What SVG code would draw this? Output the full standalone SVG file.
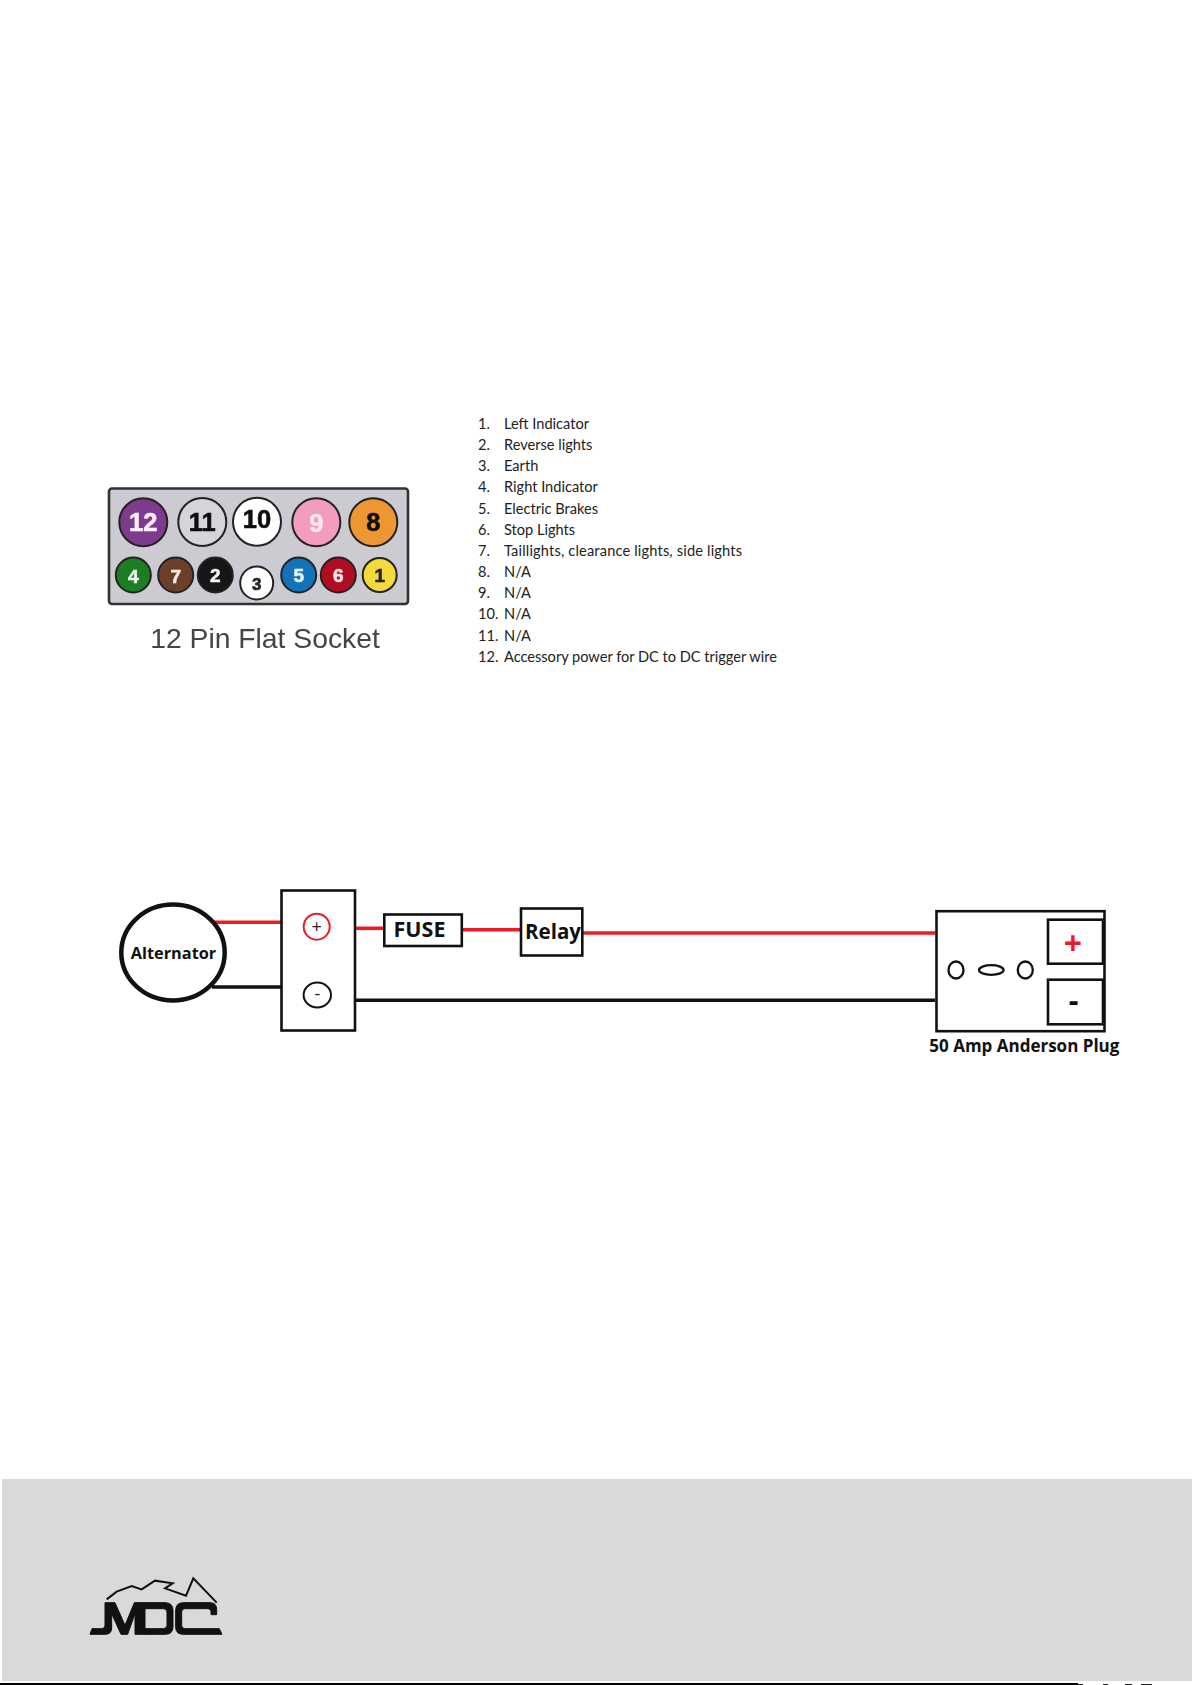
<svg xmlns="http://www.w3.org/2000/svg" width="1192" height="1685" viewBox="0 0 1192 1685">
<defs><filter id="soft" x="-5%" y="-5%" width="110%" height="110%"><feGaussianBlur stdDeviation="0.6"/></filter></defs>
<style>
.pin{stroke:#222;stroke-width:2}
.pt{font-family:"Liberation Sans",Arial,sans-serif;font-weight:700;text-anchor:middle;stroke-width:.6px}
.big{font-size:25.500px}
.sm{font-size:19px}
.li{font-family:"Lato","Open Sans",sans-serif;font-size:14.600px;fill:#222}
.box{fill:#fff;stroke:#111;stroke-width:2.600}
.lb{font-family:"Open Sans",sans-serif;font-weight:700;fill:#111}
.red{stroke:#ed1c24;stroke-width:3.600;fill:none}
.blk{stroke:#111;stroke-width:3.400;fill:none}
.hole{fill:#fff;stroke:#111;stroke-width:2.300}
</style>
<rect width="1192" height="1685" fill="#fff"/>
<g id="socket" filter="url(#soft)">
<rect x="109" y="488.500" width="299" height="115.500" rx="3" fill="#cdcbd2" stroke="#333" stroke-width="2.600"/>
<circle class="pin" cx="143.300" cy="522.300" r="24" fill="#7e3a8e"/><text class="pt big" x="143.300" y="531" fill="#fbeefb" stroke="#fbeefb">12</text>
<circle class="pin" cx="202.300" cy="522" r="24" fill="#d6d4da"/><text class="pt big" x="202.300" y="531" fill="#111" stroke="#111">11</text>
<circle class="pin" cx="257" cy="521.700" r="24" fill="#fff"/><text class="pt big" x="257" y="527.500" fill="#111" stroke="#111">10</text>
<circle class="pin" cx="316.300" cy="522.300" r="24" fill="#f29cc0"/><text class="pt big" x="316.300" y="531.500" fill="#f6e6ee" stroke="#f6e6ee">9</text>
<circle class="pin" cx="373.300" cy="522.300" r="24" fill="#ee9630"/><text class="pt big" x="373.300" y="531" fill="#111" stroke="#111">8</text>
<circle class="pin" cx="133.300" cy="575" r="17.500" fill="#1a7d22"/><text class="pt sm" x="133.300" y="582.500" fill="#eef8ee" stroke="#eef8ee">4</text>
<circle class="pin" cx="175.700" cy="575" r="17.500" fill="#6b3f2a"/><text class="pt sm" x="175.700" y="582.500" fill="#f8ebde" stroke="#f8ebde">7</text>
<circle class="pin" cx="215.300" cy="575" r="17.500" fill="#151515"/><text class="pt sm" x="215.300" y="581.500" fill="#f2f2f2" stroke="#f2f2f2">2</text>
<circle class="pin" cx="256.700" cy="583" r="16.500" fill="#fff"/><text class="pt" x="256.700" y="589.500" font-size="17" fill="#222" stroke="#222">3</text>
<circle class="pin" cx="298.700" cy="575" r="17.500" fill="#1272b8"/><text class="pt sm" x="298.700" y="581.500" fill="#dff2fc" stroke="#dff2fc">5</text>
<circle class="pin" cx="338.300" cy="575" r="17.500" fill="#b01020"/><text class="pt sm" x="338.300" y="581.500" fill="#fce4e4" stroke="#fce4e4">6</text>
<circle class="pin" cx="379.700" cy="575" r="17" fill="#f4d93a"/><text class="pt sm" x="379.700" y="582" fill="#222" stroke="#222">1</text>
<text x="265" y="648" font-family="Liberation Sans,Arial,sans-serif" font-size="28.300" fill="#444" text-anchor="middle">12 Pin Flat Socket</text>
</g>
<g id="pin-list" class="li">
<text x="478" y="429">1.</text><text x="504" y="429">Left Indicator</text>
<text x="478" y="450">2.</text><text x="504" y="450">Reverse lights</text>
<text x="478" y="471">3.</text><text x="504" y="471">Earth</text>
<text x="478" y="492">4.</text><text x="504" y="492">Right Indicator</text>
<text x="478" y="514">5.</text><text x="504" y="514">Electric Brakes</text>
<text x="478" y="535">6.</text><text x="504" y="535">Stop Lights</text>
<text x="478" y="556">7.</text><text x="504" y="556" textLength="238">Taillights, clearance lights, side lights</text>
<text x="478" y="577">8.</text><text x="504" y="577">N/A</text>
<text x="478" y="598">9.</text><text x="504" y="598">N/A</text>
<text x="478" y="619">10.</text><text x="504" y="619">N/A</text>
<text x="478" y="641">11.</text><text x="504" y="641">N/A</text>
<text x="478" y="662">12.</text><text x="504" y="662" textLength="273">Accessory power for DC to DC trigger wire</text>
</g>
<g id="connectors">
<path class="red" d="M212 922.300H281"/>
<path class="blk" d="M212 987H281"/>
<path class="red" d="M355 928.300H384"/>
<path class="red" d="M461.700 929.700H521"/>
<path class="red" d="M582 933H935"/>
<path class="blk" d="M355 1000.300H935"/>
</g>
<g id="alternator">
<ellipse cx="173" cy="952.500" rx="51.700" ry="48" fill="#fff" stroke="#111" stroke-width="4.500"/>
<text class="lb" x="173.500" y="959.300" font-size="16.300" text-anchor="middle">Alternator</text>
</g>
<g id="terminal">
<rect class="box" x="281.500" y="890.500" width="73.500" height="140"/>
<circle cx="316.700" cy="926.700" r="13" fill="#fff" stroke="#ed1c24" stroke-width="2"/>
<text x="316.700" y="933" font-family="Open Sans,sans-serif" font-size="18" fill="#222" text-anchor="middle">+</text>
<ellipse cx="317.300" cy="995" rx="13.700" ry="12.500" fill="#fff" stroke="#111" stroke-width="2"/>
<text x="317.300" y="1000" font-family="Open Sans,sans-serif" font-size="18" fill="#222" text-anchor="middle">-</text>
</g>
<g id="fuse">
<rect class="box" x="384.300" y="914.500" width="77.500" height="31.500"/>
<text class="lb" x="393.500" y="937.300" font-size="21.500">FUSE</text>
</g>
<g id="relay">
<rect class="box" x="521" y="908.500" width="61.300" height="47"/>
<text class="lb" x="525" y="938.700" font-size="20.500">Relay</text>
</g>
<g id="anderson-plug">
<rect class="box" x="936.500" y="911.200" width="168" height="120"/>
<rect class="box" x="1048" y="919.700" width="55" height="44"/>
<rect class="box" x="1048" y="979.700" width="55" height="44.600"/>
<text x="1073" y="954.500" font-family="Open Sans,sans-serif" font-weight="700" font-size="32" fill="#ed1c24" text-anchor="middle">+</text>
<text x="1073.500" y="1011" font-family="Open Sans,sans-serif" font-weight="700" font-size="30" fill="#111" text-anchor="middle">-</text>
<ellipse class="hole" cx="956" cy="970" rx="7.500" ry="8.500"/>
<ellipse class="hole" cx="991.300" cy="970" rx="12.300" ry="4.800"/>
<ellipse class="hole" cx="1025.300" cy="970" rx="7.500" ry="8.500"/>
<text class="lb" x="929.300" y="1051.700" font-size="17">50 Amp Anderson Plug</text>
</g>
<g id="footer">
<rect x="2" y="1479" width="1190" height="202" fill="#d9d9d9"/>
<rect x="0" y="1683" width="1078" height="2" fill="#000"/>
<g fill="#222">
<rect x="1078" y="1684" width="5" height="1"/><rect x="1103" y="1684" width="5" height="1"/><rect x="1125" y="1684" width="7" height="1"/><rect x="1141" y="1684" width="11" height="1"/>
</g>
<g id="logo" transform="translate(85 1572) scale(.33333)">
<path fill="none" stroke="#111" stroke-width="6" stroke-linejoin="miter" d="M65 82L95 59L140 42L170 52L210 26L263 34L240 49L303 71L325 19L395 92"/>
<g fill="#111" stroke="#111" stroke-width="3">
<path d="M15 187L21 170H50Q60 170 60 160V92H90L120 160L148 92H180V187H150V125L128 187H108L80 125V168Q80 187 60 187Z"/>
<path d="M180 92H240Q264 92 264 115V165Q264 187 240 187H180V170H235Q246 170 246 160V120Q246 110 235 110H180Z"/>
<path d="M295 92H375Q395 92 395 112V128H378V118Q378 110 368 110H300Q290 110 290 120V160Q290 170 300 170H403L411 187H295Q272 187 272 165V115Q272 92 295 92Z"/>
</g>
</g>
</g>
</svg>
